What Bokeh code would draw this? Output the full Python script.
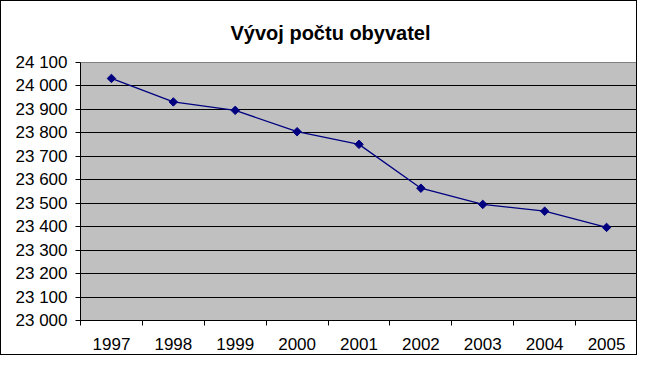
from bokeh.plotting import figure
from bokeh.models import Range1d, FixedTicker, ColumnDataSource
from bokeh.embed import file_html
from bokeh.resources import INLINE

# ---- data ----
years = [1997, 1998, 1999, 2000, 2001, 2002, 2003, 2004, 2005]
population = [24032, 23932, 23896, 23805, 23751, 23564, 23495, 23466, 23397]
y_ticks = [23000, 23100, 23200, 23300, 23400, 23500, 23600, 23700, 23800, 23900, 24000, 24100]
y_tick_labels = ["23 000", "23 100", "23 200", "23 300", "23 400", "23 500",
                 "23 600", "23 700", "23 800", "23 900", "24 000", "24 100"]
title_text = "Vývoj počtu obyvatel"

FONT = "Liberation Sans"

src = ColumnDataSource(dict(year=years, pop=population))

p = figure(width=637, height=355, output_backend="svg", toolbar_location=None,
           x_range=Range1d(years[0] - 0.5, years[-1] + 0.5),
           y_range=Range1d(y_ticks[0], y_ticks[-1]),
           min_border_left=79, min_border_right=1, min_border_top=60, min_border_bottom=36)
p.styles = {"border": "1px solid black"}

p.title.text = title_text
p.title.align = "left"
p.title.offset = 150
p.title.text_font = FONT
p.title.text_font_size = "20px"
p.title.text_font_style = "bold"
p.title.text_color = "black"
p.title.standoff = 37

p.background_fill_color = "#C0C0C0"
p.border_fill_color = "white"
p.outline_line_color = "#808080"
p.outline_line_width = 1

# x axis: labels at years, ticks at category boundaries
xa = p.xaxis[0]
xa.ticker = FixedTicker(ticks=years, minor_ticks=[y - 0.5 for y in years] + [years[-1] + 0.5])
xa.major_tick_out = 0
xa.major_tick_in = 0
xa.minor_tick_out = 5
xa.minor_tick_in = 0
xa.minor_tick_line_color = "black"
xa.axis_line_color = "black"
xa.major_label_standoff = 12
xa.major_label_text_font = FONT
xa.major_label_text_font_size = "17px"
xa.major_label_text_color = "black"

ya = p.yaxis[0]
ya.ticker = FixedTicker(ticks=y_ticks, minor_ticks=[])
ya.major_label_overrides = {t: l for t, l in zip(y_ticks, y_tick_labels)}
ya.major_tick_out = 5
ya.major_tick_in = 0
ya.major_tick_line_color = "black"
ya.axis_line_color = "black"
ya.major_label_standoff = 8
ya.major_label_text_font = FONT
ya.major_label_text_font_size = "17px"
ya.major_label_text_color = "black"

p.xgrid.visible = False
p.ygrid.ticker = FixedTicker(ticks=y_ticks[1:-1])
p.ygrid.grid_line_color = "black"
p.ygrid.grid_line_width = 1

p.line("year", "pop", source=src, line_color="#000080", line_width=1.3)
p.scatter("year", "pop", source=src, marker="square", angle=0.785398, size=6,
          fill_color="#000080", line_color="#000080")

open("out.html", "w").write(file_html(p, INLINE))
